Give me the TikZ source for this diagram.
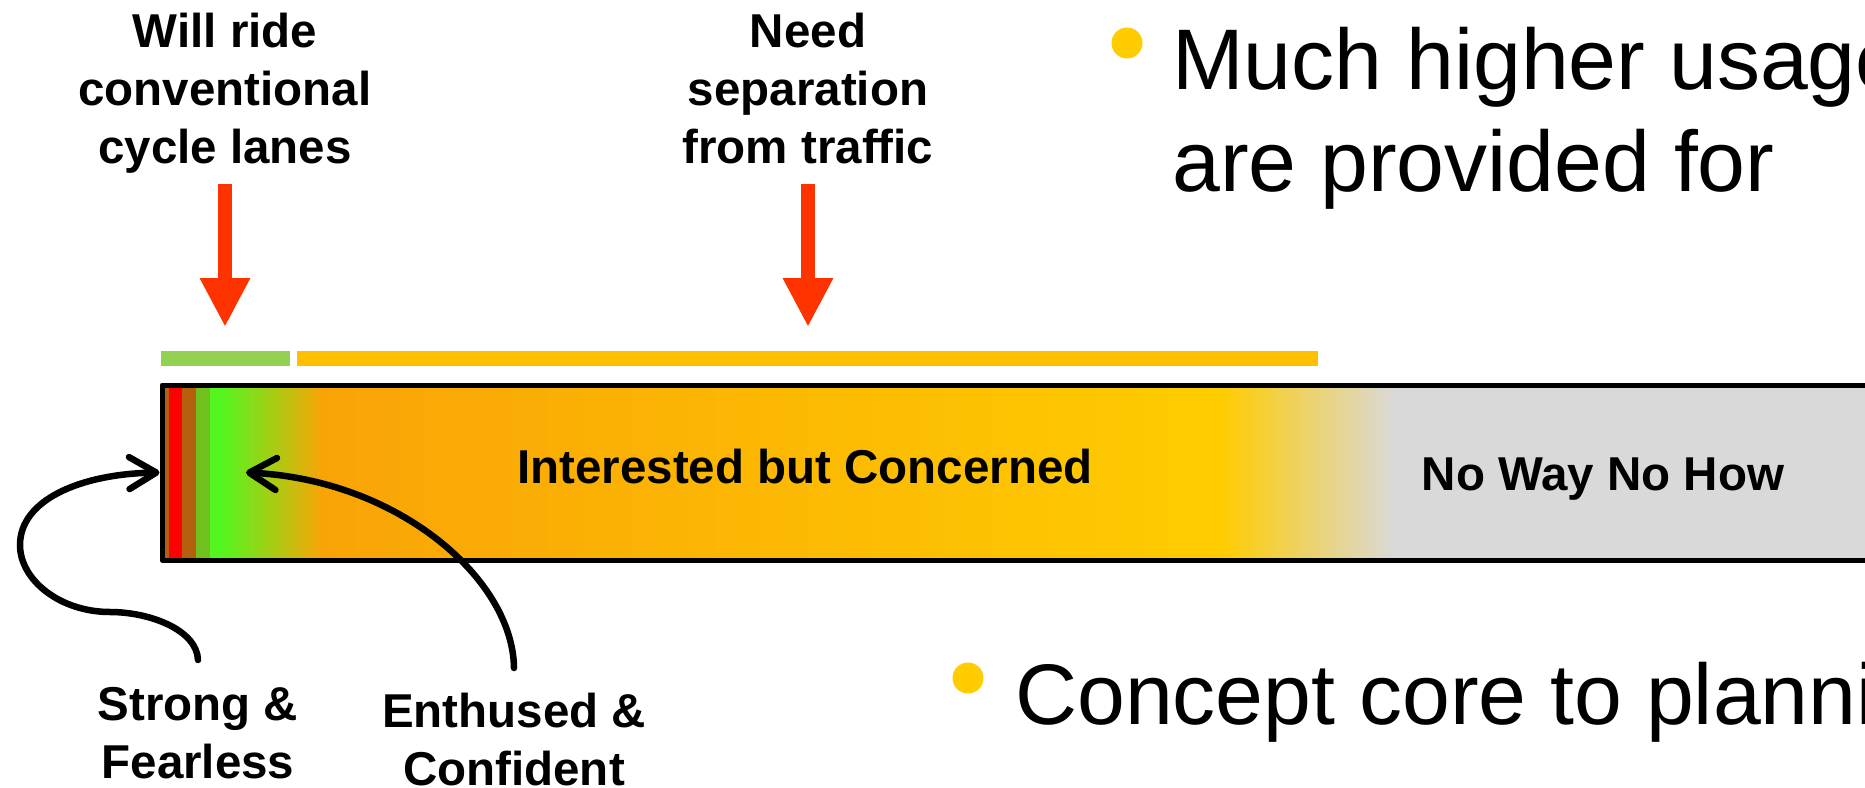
\documentclass[tikz,border=0pt]{standalone}
\usepackage{fontspec}
\setmainfont{Liberation Sans}
\usepackage{xcolor}
\definecolor{brn00}{HTML}{B5600F}
\definecolor{red00}{HTML}{FF0000}
\definecolor{grn00}{HTML}{70C01E}
\definecolor{grn01}{HTML}{55F520}
\definecolor{ora00}{HTML}{F9A406}
\definecolor{yel00}{HTML}{FFCC00}
\definecolor{gry00}{HTML}{D9D9D9}
\definecolor{lane_green}{HTML}{92D050}
\definecolor{lane_yellow}{HTML}{FFC000}
\definecolor{arr_red}{HTML}{FF3300}
\usepackage{tikz}
\usetikzlibrary{calc}
\usetikzlibrary{arrows.meta}
\tikzstyle{top_label} = [align=center, inner sep=0pt, font=\bfseries\fontsize{47.5}{58}\selectfont]
\tikzstyle{bar_label} = [inner sep=0pt, font=\bfseries\fontsize{47.5}{58}\selectfont]
\tikzstyle{bullet_text} = [align=left, inner sep=0pt, font=\fontsize{86}{102}\selectfont]
\tikzstyle{lane_bar} = [rectangle, minimum height=15pt, inner sep=0pt]
\tikzstyle{spectrum} = [rectangle, draw=black, line width=5pt, line join=round, minimum height=175pt, inner sep=0pt]
\tikzstyle{dot} = [circle, fill=yel00, minimum size=31pt, inner sep=0pt]
\tikzstyle{red_arr} = [line width=14pt, -{Triangle[length=49pt,width=47pt]}, arr_red, shorten <=10pt, shorten >=24pt]
\tikzstyle{curve_arr} = [line width=6.5pt, -{Straight Barb[length=27pt,width=32pt,round]}, black, line cap=round]

\begin{document}
\begin{tikzpicture}[x=1pt,y=-1pt]
        \useasboundingbox (0,0) rectangle (1865,787);
        \clip (0,0) rectangle (1865,787);
        % what each group will ride on
        \node (will)[top_label, anchor=north] at (225,13) {Will ride\\conventional\\cycle lanes};
        \node (need)[top_label, anchor=north] at (808,13) {Need\\separation\\from traffic};
        \node (cl_bar)[lane_bar, fill=lane_green, minimum width=129pt, anchor=north west] at (161,351) {};
        \node (sep_bar)[lane_bar, fill=lane_yellow, minimum width=1021pt, anchor=north west] at (297,351) {};
        \draw [red_arr] (will.south) -- (will.south |- cl_bar.north);
        \draw [red_arr] (need.south |- will.south) -- (need.south |- sep_bar.north);
        % the spectrum of riders
        \fill [brn00] (164,385) rectangle (169,560);
        \fill [red00] (169,385) rectangle (182,560);
        \fill [brn00] (182,385) rectangle (196,560);
        \fill [grn00] (196,385) rectangle (210,560);
        \fill [grn01] (210,385) rectangle (222.5,560);
        \shade [left color=grn01, right color=ora00] (222,385) rectangle (322.5,560);
        \shade [left color=ora00, right color=yel00] (322,385) rectangle (1221.5,560);
        \shade [left color=yel00, right color=gry00] (1221,385) rectangle (1395.5,560);
        \fill [gry00] (1395,385) rectangle (1905,560);
        \node (bar)[spectrum, minimum width=1740pt, anchor=north west] at (159.5,382.5) {};
        \node (ibc)[bar_label, anchor=base] at (805,483) {Interested but Concerned};
        \node (nwnh)[bar_label, anchor=base] at (1603,490) {No Way No How};
        % the two small groups
        \node (strong)[top_label, anchor=north] at (198,687) {Strong \&\\Fearless};
        \node (enth)[top_label, anchor=north] at (514,693) {Enthused \&\\Confident};
        \coordinate (ec_tip) at (246,472.5);
        \draw [curve_arr] ([yshift=27pt]strong.north) .. controls (197,630) and (150,612) .. (110,612)
            .. controls (60,612) and (20,580) .. (20,545) .. controls (20,500) and (80,474) .. (bar.west);
        \draw [curve_arr] ([yshift=25pt]enth.north) .. controls (513,580) and (400,480) .. (ec_tip);
        % slide bullets
        \node (b1)[dot] at (1127,43) {};
        \node (t1)[bullet_text, anchor=north west] at (1172,26.5) {Much higher usage\\are provided for};
        \node (b2)[dot] at (968,678) {};
        \node (t2)[bullet_text, anchor=north west] at (1015,661.5) {Concept core to planning};
    \end{tikzpicture}
\end{document}
